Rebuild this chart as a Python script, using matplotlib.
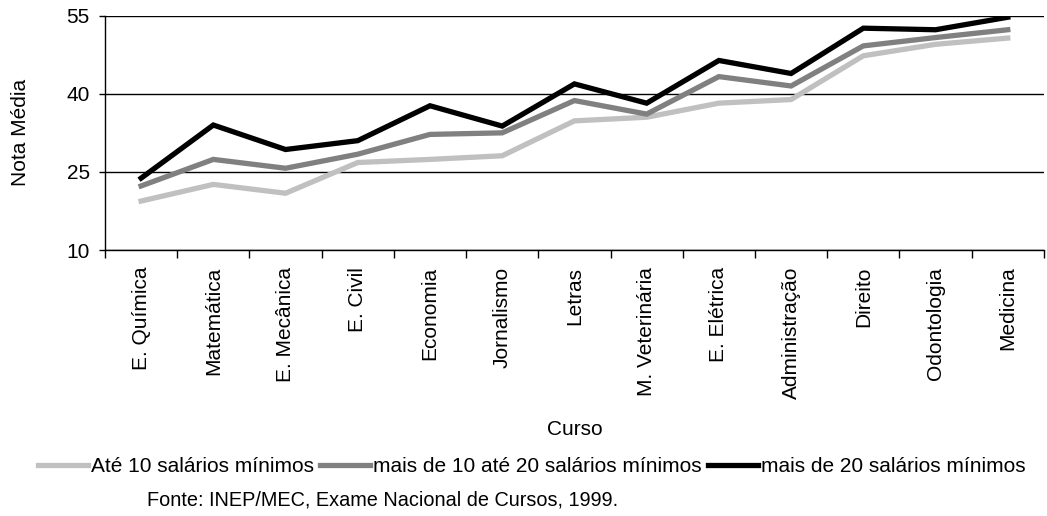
import numpy as np
import matplotlib
matplotlib.use("Agg")
import matplotlib.pyplot as plt

# -----------------------------
# DATA
# -----------------------------
cursos = ["E. Química", "Matemática", "E. Mecânica", "E. Civil", "Economia",
          "Jornalismo", "Letras", "M. Veterinária", "E. Elétrica",
          "Administração", "Direito", "Odontologia", "Medicina"]

ate_10 = [19.4, 22.6, 20.9, 26.8, 27.4, 28.1, 34.8, 35.5, 38.2, 38.9, 47.3, 49.5, 50.7]
de_10_a_20 = [22.3, 27.4, 25.7, 28.4, 32.2, 32.5, 38.7, 36.1, 43.3, 41.5, 49.2, 50.8, 52.3]
mais_20 = [23.8, 34.0, 29.3, 31.0, 37.7, 33.8, 41.9, 38.2, 46.4, 43.9, 52.6, 52.3, 54.7]

labels = ["Até 10 salários mínimos",
          "mais de 10 até 20 salários mínimos",
          "mais de 20 salários mínimos"]
y_ticks = [10, 25, 40, 55]

# -----------------------------
# STYLE
# -----------------------------
plt.rcParams["font.family"] = ["Liberation Sans", "DejaVu Sans"]
plt.rcParams["font.size"] = 15

fig = plt.figure(figsize=(10.47, 5.16), dpi=100)
ax = fig.add_axes([0.1003, 0.5155, 0.8967, 0.4541])

x = np.arange(len(cursos))
ax.plot(x, ate_10, color="#c0c0c0", lw=3.8, label=labels[0], solid_joinstyle="miter")
ax.plot(x, de_10_a_20, color="#808080", lw=3.8, label=labels[1], solid_joinstyle="miter")
ax.plot(x, mais_20, color="#000000", lw=3.8, label=labels[2], solid_joinstyle="miter")

ax.set_xlim(-0.5, len(cursos) - 0.5)
ax.set_ylim(10, 55)
ax.set_yticks(y_ticks)
ax.yaxis.grid(True, color="black", lw=1.0)
ax.set_axisbelow(True)

ax.set_xticks(x)
ax.set_xticklabels(cursos, rotation=90, fontsize=15)
ax.set_xticks(np.arange(len(cursos) + 1) - 0.5, minor=True)
ax.tick_params(axis="x", which="major", length=0, pad=12)
ax.tick_params(axis="x", which="minor", length=6, width=1, direction="out")
ax.tick_params(axis="y", length=4, width=1, direction="out", labelsize=15, pad=7)

for s in ["top", "right"]:
    ax.spines[s].set_visible(False)
ax.spines["left"].set_linewidth(1.0)
ax.spines["bottom"].set_linewidth(1.0)

ax.set_ylabel("Nota Média", fontsize=15, labelpad=26)
ax.set_xlabel("Curso", fontsize=15, labelpad=15)

fig.legend(loc="center", bbox_to_anchor=(0.508, 0.095), ncol=3, frameon=False,
           fontsize=15, handlelength=2.4, handletextpad=0.15, columnspacing=0.3)

fig.text(147 / 1047, 1 - 500 / 516, "Fonte: INEP/MEC, Exame Nacional de Cursos, 1999.",
         fontsize=14.3, va="center", ha="left")

plt.savefig("out.png", dpi=100)
